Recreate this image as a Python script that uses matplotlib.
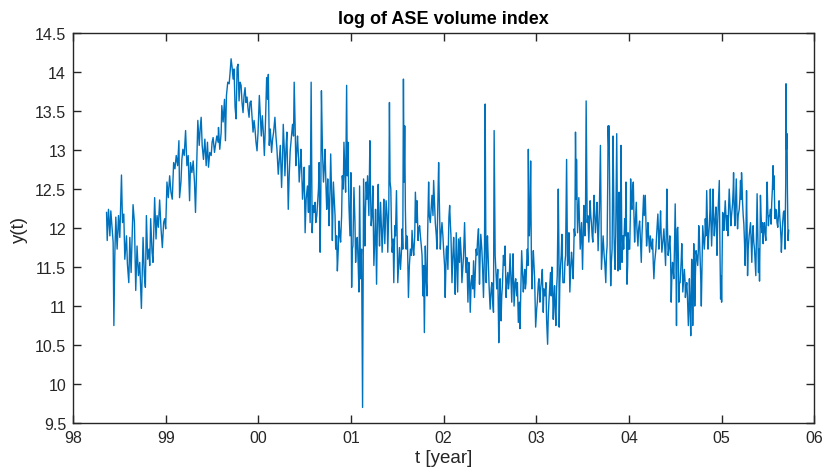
import numpy as np
import matplotlib
matplotlib.use('Agg')
import matplotlib.pyplot as plt

# values (time in years, 98 = 1998, 100 = 2000, ...)
t_1998 = [98.362, 98.369, 98.383, 98.398, 98.408, 98.423, 98.433, 98.441, 98.451, 98.462,
          98.476, 98.491, 98.505, 98.523, 98.534, 98.548, 98.559, 98.577, 98.587, 98.602,
          98.613, 98.627, 98.638, 98.648, 98.663, 98.677, 98.691, 98.706, 98.720, 98.738,
          98.749, 98.756, 98.770, 98.781, 98.792, 98.806, 98.820, 98.828, 98.838, 98.853,
          98.863, 98.881, 98.896, 98.907, 98.921, 98.935, 98.950, 98.964, 98.978, 98.989,
          99.000, 99.014, 99.028, 99.043, 99.057, 99.071, 99.086, 99.100, 99.114, 99.129,
          99.143, 99.150, 99.165, 99.175, 99.186, 99.200, 99.215, 99.229, 99.243, 99.258,
          99.268, 99.283, 99.297, 99.311, 99.322, 99.337, 99.347, 99.362, 99.372, 99.383,
          99.394, 99.408, 99.423, 99.437, 99.451, 99.462, 99.476, 99.491, 99.501, 99.512,
          99.527, 99.537, 99.552, 99.566]
y_1998 = [12.20, 11.84, 12.24, 11.90, 12.22, 11.99, 11.82, 10.75, 11.65, 12.14,
          11.73, 12.16, 11.88, 12.68, 12.07, 12.18, 11.60, 11.90, 11.54, 11.30,
          11.88, 11.43, 11.90, 12.30, 12.07, 11.20, 11.77, 11.39, 11.56, 10.97,
          11.52, 11.88, 11.39, 11.24, 12.16, 11.60, 11.73, 11.52, 12.12, 11.69,
          11.56, 12.39, 11.86, 12.16, 12.01, 12.36, 11.99, 11.75, 12.07, 12.12,
          11.99, 12.59, 12.39, 12.67, 12.46, 12.37, 12.84, 12.76, 12.93, 12.80,
          13.12, 12.39, 12.59, 12.88, 13.01, 12.93, 13.25, 12.80, 12.93, 12.35,
          12.84, 12.71, 12.86, 12.59, 12.20, 12.88, 13.38, 13.06, 13.27, 13.42,
          13.06, 12.88, 13.14, 12.80, 13.10, 12.78, 12.97, 12.93, 13.10, 13.16,
          12.97, 13.06, 13.18, 13.10]

t_1999 = [99.570, 99.584, 99.599, 99.606, 99.620, 99.635, 99.645, 99.656, 99.670, 99.685,
          99.695, 99.706, 99.717, 99.728, 99.738, 99.749, 99.760, 99.771, 99.781, 99.792,
          99.803, 99.814, 99.824, 99.835, 99.846, 99.857, 99.867, 99.878, 99.889, 99.900,
          99.910, 99.921, 99.932, 99.943, 99.954, 99.964, 99.975, 99.986, 99.997, 100.011,
          100.022, 100.032, 100.043, 100.054, 100.065, 100.075, 100.090, 100.100, 100.108, 100.118,
          100.129, 100.143, 100.154, 100.165, 100.179, 100.190, 100.201, 100.215, 100.226, 100.237,
          100.251, 100.262, 100.269, 100.280, 100.287, 100.298, 100.308, 100.323, 100.333, 100.344,
          100.355, 100.369, 100.380, 100.387, 100.398, 100.405, 100.416, 100.423, 100.434, 100.441,
          100.452, 100.459, 100.470, 100.477, 100.488, 100.495, 100.505, 100.516, 100.530, 100.541,
          100.548, 100.559, 100.570, 100.581, 100.591, 100.602, 100.613, 100.620, 100.631, 100.638,
          100.649, 100.656, 100.667, 100.674, 100.681, 100.692, 100.703, 100.713, 100.720, 100.731,
          100.738, 100.749, 100.756, 100.763, 100.774, 100.781, 100.792, 100.799, 100.810]
y_1999 = [13.29, 13.01, 13.23, 13.57, 13.36, 13.65, 13.12, 13.70, 13.87, 13.85,
          13.99, 14.17, 14.06, 13.91, 14.04, 13.55, 13.40, 14.06, 14.10, 13.63,
          13.87, 13.83, 13.61, 13.48, 13.70, 13.80, 13.61, 13.68, 13.53, 13.42,
          13.61, 13.63, 13.44, 13.23, 13.38, 13.27, 13.10, 12.99, 13.23, 13.70,
          13.44, 13.18, 13.44, 13.23, 12.93, 13.27, 13.93, 13.65, 13.97, 13.06,
          13.27, 12.97, 13.14, 13.23, 13.42, 13.18, 13.01, 12.69, 12.88, 13.06,
          12.52, 12.93, 13.33, 13.01, 12.67, 13.01, 13.23, 12.24, 12.67, 12.99,
          13.14, 13.33, 13.18, 13.87, 13.27, 12.80, 13.01, 13.18, 12.88, 12.59,
          12.80, 13.01, 12.67, 12.37, 12.59, 12.78, 11.94, 12.37, 12.54, 12.20,
          12.80, 12.07, 13.87, 11.94, 12.29, 12.20, 12.33, 12.07, 12.16, 12.29,
          12.50, 12.84, 11.69, 12.37, 13.76, 13.01, 12.59, 12.80, 13.01, 12.50,
          12.24, 12.63, 12.37, 12.03, 12.50, 12.95, 12.37, 11.84, 12.59]

t_2000 = [100.828, 100.835, 100.845, 100.853, 100.863, 100.871, 100.881, 100.888, 100.899, 100.906,
          100.917, 100.924, 100.935, 100.942, 100.953, 100.960, 100.967, 100.978, 100.989, 100.999,
          101.007, 101.014, 101.021, 101.032, 101.043, 101.050, 101.060, 101.068, 101.078, 101.086,
          101.093, 101.103, 101.114, 101.125, 101.132, 101.136, 101.143, 101.150, 101.157, 101.164,
          101.172, 101.179, 101.186, 101.193, 101.204, 101.211, 101.218, 101.229, 101.236, 101.247,
          101.258, 101.265, 101.276, 101.286, 101.294, 101.301, 101.308, 101.319, 101.329, 101.336,
          101.347, 101.354, 101.365, 101.372, 101.379, 101.390, 101.397, 101.408, 101.415, 101.422,
          101.430, 101.437, 101.444, 101.455, 101.462, 101.473, 101.480, 101.491, 101.498, 101.505,
          101.516, 101.523, 101.534, 101.544, 101.552, 101.559, 101.566, 101.573, 101.580, 101.587,
          101.595, 101.602, 101.609, 101.620, 101.630, 101.641, 101.652, 101.659, 101.670, 101.677,
          101.688, 101.695, 101.706, 101.713, 101.724, 101.731, 101.741, 101.749, 101.759, 101.767,
          101.777, 101.784, 101.792, 101.802, 101.810, 101.820, 101.827, 101.838, 101.845, 101.856,
          101.867, 101.874, 101.885, 101.892, 101.903, 101.910, 101.921, 101.928, 101.935, 101.946,
          101.953, 101.964, 101.971, 101.982, 101.992, 101.999, 102.010, 102.017, 102.028, 102.035,
          102.046]
y_2000 = [12.16, 11.73, 11.90, 11.45, 11.73, 12.09, 11.90, 11.82, 12.16, 12.67,
          12.50, 13.10, 12.67, 12.46, 13.83, 12.67, 13.10, 12.29, 11.90, 12.71,
          11.24, 11.73, 11.77, 12.52, 12.07, 11.56, 11.86, 11.88, 11.52, 11.18,
          12.54, 11.35, 11.73, 9.70, 11.73, 12.63, 12.16, 11.77, 12.24, 12.59,
          12.37, 12.67, 12.42, 12.16, 13.12, 12.46, 12.03, 12.20, 12.54, 11.52,
          11.90, 12.24, 11.28, 12.16, 12.56, 12.07, 11.77, 12.33, 11.99, 11.69,
          12.07, 12.37, 11.80, 12.07, 12.35, 12.16, 11.69, 12.24, 13.61, 12.59,
          12.50, 11.99, 11.69, 11.86, 11.30, 12.03, 11.90, 12.48, 11.90, 11.30,
          11.56, 11.75, 11.47, 11.69, 11.99, 11.73, 13.91, 12.59, 13.31, 12.24,
          11.73, 11.90, 11.86, 11.11, 11.52, 11.73, 11.65, 11.97, 11.73, 11.65,
          11.90, 12.46, 12.07, 12.35, 11.84, 11.99, 12.03, 11.90, 11.77, 11.65,
          11.13, 11.52, 10.66, 11.77, 11.39, 11.13, 11.90, 12.59, 12.16, 12.07,
          12.29, 12.42, 12.16, 12.61, 12.29, 12.07, 11.90, 11.73, 12.16, 12.84,
          12.37, 11.73, 11.90, 12.07, 11.90, 11.73, 11.52, 11.11, 11.73, 11.77,
          11.47]

t_2002 = [102.050, 102.057, 102.065, 102.072, 102.079, 102.090, 102.100, 102.108, 102.118, 102.125,
          102.136, 102.143, 102.151, 102.161, 102.172, 102.179, 102.190, 102.197, 102.208, 102.215,
          102.226, 102.233, 102.240, 102.251, 102.262, 102.272, 102.280, 102.287, 102.297, 102.305,
          102.315, 102.323, 102.333, 102.344, 102.351, 102.358, 102.366, 102.376, 102.387, 102.394,
          102.401, 102.412, 102.419, 102.430, 102.441, 102.448, 102.455, 102.459, 102.466, 102.473,
          102.484, 102.491, 102.502, 102.513, 102.520, 102.530, 102.538, 102.545, 102.552, 102.556,
          102.566, 102.573, 102.584, 102.595, 102.602, 102.609, 102.620, 102.627, 102.634, 102.645,
          102.656, 102.663, 102.674, 102.681, 102.692, 102.699, 102.706, 102.717, 102.728, 102.735,
          102.742, 102.749, 102.760, 102.771, 102.778, 102.789, 102.796, 102.806, 102.817, 102.824,
          102.835, 102.842, 102.853, 102.860, 102.867, 102.875, 102.882, 102.889, 102.896, 102.903,
          102.910, 102.914, 102.921, 102.925, 102.932, 102.939, 102.946, 102.953, 102.961, 102.968,
          102.975, 102.982, 102.993, 103.004, 103.011, 103.022, 103.029, 103.039, 103.047, 103.054,
          103.065, 103.075, 103.082, 103.093, 103.104, 103.111, 103.122, 103.129, 103.136, 103.147,
          103.154, 103.161, 103.168, 103.176, 103.183, 103.190, 103.197, 103.204, 103.211, 103.219,
          103.226, 103.237, 103.244, 103.247, 103.254, 103.262, 103.269, 103.276, 103.287]
y_2002 = [11.73, 12.14, 12.29, 12.07, 11.90, 11.30, 11.65, 11.88, 11.52, 11.15,
          11.94, 11.56, 11.18, 11.86, 11.56, 11.88, 11.65, 11.30, 11.52, 11.65,
          12.07, 11.73, 11.43, 11.62, 11.05, 11.56, 11.30, 10.92, 11.30, 11.39,
          11.22, 11.58, 11.11, 11.52, 11.73, 11.65, 11.84, 11.99, 11.28, 11.65,
          11.92, 11.73, 11.54, 11.11, 11.73, 13.59, 11.90, 11.30, 11.65, 11.90,
          11.52, 11.24, 10.96, 11.22, 11.30, 11.05, 10.92, 13.25, 12.16, 11.65,
          11.39, 11.22, 11.47, 10.53, 11.05, 11.35, 10.81, 11.13, 11.26, 11.65,
          11.52, 11.77, 11.11, 11.30, 11.43, 11.22, 11.30, 11.67, 11.30, 11.05,
          11.39, 11.67, 11.00, 11.30, 11.35, 11.13, 11.30, 10.79, 11.05, 10.71,
          11.30, 11.71, 11.39, 11.18, 11.35, 11.47, 11.22, 11.30, 11.56, 11.73,
          11.52, 13.01, 12.07, 11.90, 12.16, 12.86, 11.73, 11.22, 11.52, 11.71,
          11.52, 11.35, 10.73, 10.96, 11.05, 11.30, 11.35, 11.05, 11.22, 11.30,
          11.47, 10.92, 11.22, 11.13, 11.30, 10.83, 10.51, 10.87, 11.05, 11.30,
          11.43, 11.13, 11.50, 11.22, 10.83, 11.09, 11.26, 10.96, 10.75, 11.22,
          11.39, 12.50, 11.73, 10.73, 11.30, 11.52, 11.65, 11.92, 11.30]

t_2003 = [103.302, 103.309, 103.316, 103.327, 103.334, 103.337, 103.345, 103.352, 103.362, 103.373,
          103.380, 103.388, 103.398, 103.409, 103.416, 103.423, 103.431, 103.434, 103.441, 103.445,
          103.452, 103.459, 103.466, 103.474, 103.481, 103.488, 103.499, 103.506, 103.513, 103.520,
          103.524, 103.531, 103.538, 103.545, 103.549, 103.556, 103.567, 103.574, 103.581, 103.588,
          103.595, 103.603, 103.610, 103.617, 103.624, 103.631, 103.638, 103.649, 103.656, 103.667,
          103.674, 103.681, 103.692, 103.699, 103.703, 103.714, 103.721, 103.732, 103.739, 103.750,
          103.757, 103.764, 103.771, 103.775, 103.782, 103.785, 103.793, 103.796, 103.803, 103.810,
          103.818, 103.828, 103.836, 103.839, 103.846, 103.850, 103.857, 103.868, 103.875, 103.882,
          103.889, 103.893, 103.900, 103.904, 103.911, 103.914, 103.921, 103.925, 103.936, 103.943,
          103.954, 103.961, 103.968, 103.975, 103.979, 103.986, 103.990, 104.000, 104.008, 104.015,
          104.018, 104.026, 104.033, 104.040, 104.047, 104.054, 104.061, 104.069, 104.079, 104.086,
          104.097, 104.104, 104.115, 104.122, 104.133, 104.140, 104.151, 104.158, 104.165, 104.176,
          104.183, 104.190, 104.198, 104.205, 104.212, 104.223, 104.230, 104.241, 104.248, 104.255,
          104.262, 104.269, 104.277, 104.284, 104.291, 104.298, 104.305, 104.312, 104.320, 104.323,
          104.334, 104.341, 104.348, 104.355, 104.366, 104.377, 104.384, 104.395, 104.402, 104.409,
          104.416, 104.423, 104.434, 104.441, 104.449, 104.456, 104.463, 104.470, 104.477, 104.484,
          104.491, 104.499, 104.506, 104.513, 104.520]
y_2003 = [11.30, 11.56, 11.65, 12.88, 11.90, 11.52, 11.65, 11.94, 11.18, 11.52,
          11.69, 11.56, 11.35, 11.99, 11.90, 13.23, 12.37, 12.88, 12.24, 11.94,
          12.16, 12.39, 12.07, 11.73, 11.90, 12.07, 11.47, 11.90, 12.29, 12.07,
          11.90, 12.16, 13.63, 12.59, 12.07, 12.16, 11.82, 12.07, 12.35, 12.16,
          12.07, 11.90, 11.82, 12.16, 12.42, 12.16, 11.94, 12.16, 12.33, 11.71,
          11.99, 12.24, 13.06, 12.16, 11.47, 11.73, 11.90, 11.65, 11.56, 11.30,
          11.65, 11.77, 12.59, 13.31, 13.01, 13.31, 12.37, 11.77, 11.26, 11.56,
          11.73, 13.18, 12.37, 11.90, 11.56, 11.47, 11.90, 13.21, 12.16, 11.45,
          11.90, 12.46, 11.90, 11.47, 12.16, 13.06, 12.16, 11.56, 11.90, 11.73,
          12.12, 11.90, 12.59, 11.73, 11.28, 11.52, 11.94, 11.73, 11.73, 12.16,
          12.63, 12.29, 12.24, 12.50, 12.59, 12.16, 11.82, 12.07, 12.33, 11.99,
          11.77, 11.99, 12.09, 11.90, 11.56, 11.90, 12.20, 12.42, 12.16, 12.42,
          12.07, 11.77, 11.90, 12.07, 11.90, 11.69, 11.90, 11.77, 11.73, 11.86,
          11.56, 11.35, 11.56, 11.65, 11.73, 11.90, 12.03, 12.18, 11.90, 11.73,
          11.99, 12.22, 11.90, 11.69, 11.82, 11.99, 11.82, 11.52, 11.90, 12.50,
          11.99, 11.65, 11.77, 11.90, 11.65, 11.05, 11.39, 11.56, 11.47, 11.35,
          11.73, 12.31, 11.73, 10.75, 11.99]

t_2004 = [104.527, 104.534, 104.538, 104.545, 104.552, 104.563, 104.570, 104.577, 104.581, 104.588,
          104.598, 104.606, 104.609, 104.616, 104.624, 104.631, 104.641, 104.649, 104.652, 104.659,
          104.667, 104.674, 104.677, 104.684, 104.688, 104.695, 104.699, 104.706, 104.710, 104.717,
          104.724, 104.731, 104.742, 104.749, 104.753, 104.760, 104.767, 104.774, 104.781, 104.788,
          104.796, 104.803, 104.813, 104.821, 104.824, 104.831, 104.839, 104.846, 104.853, 104.860,
          104.867, 104.874, 104.878, 104.885, 104.892, 104.900, 104.907, 104.914, 104.921, 104.928,
          104.939, 104.946, 104.950, 104.957, 104.964, 104.971, 104.975, 104.982, 104.989, 104.996,
          105.000, 105.007, 105.011, 105.018, 105.025, 105.032, 105.039, 105.046, 105.054, 105.061,
          105.068, 105.075, 105.082, 105.090, 105.100, 105.107, 105.118, 105.125, 105.129, 105.136,
          105.143, 105.150, 105.158, 105.165, 105.172, 105.179, 105.190, 105.197, 105.204, 105.211,
          105.215, 105.222, 105.226, 105.233, 105.240, 105.247, 105.254, 105.262, 105.269, 105.276,
          105.280, 105.287, 105.297, 105.305, 105.312, 105.319, 105.326, 105.333, 105.340, 105.347,
          105.355, 105.362, 105.369, 105.376, 105.383, 105.391, 105.398, 105.405, 105.409, 105.416,
          105.419, 105.426, 105.434, 105.441, 105.448, 105.455, 105.462, 105.469, 105.477, 105.484,
          105.491, 105.498, 105.505, 105.512, 105.520, 105.527, 105.534, 105.541, 105.548, 105.555,
          105.559, 105.566, 105.573, 105.577, 105.584, 105.591, 105.598, 105.606, 105.613, 105.620,
          105.627, 105.634, 105.641, 105.645, 105.652, 105.659, 105.667, 105.674, 105.681, 105.684,
          105.692, 105.695, 105.699, 105.706, 105.710, 105.717, 105.724]
y_2004 = [12.01, 11.56, 11.05, 11.30, 11.30, 11.56, 11.80, 11.52, 11.18, 11.30,
          11.47, 11.30, 11.11, 11.22, 11.30, 11.13, 10.75, 11.05, 11.35, 11.05,
          10.62, 11.30, 11.60, 11.30, 10.75, 11.30, 11.80, 11.52, 11.00, 11.39,
          11.71, 11.65, 11.52, 11.73, 12.03, 11.90, 11.65, 11.39, 11.00, 11.52,
          12.03, 11.90, 11.73, 11.90, 12.12, 11.90, 12.48, 12.07, 11.73, 11.90,
          12.03, 12.24, 12.50, 12.07, 11.77, 12.07, 12.50, 12.16, 11.90, 12.07,
          12.27, 11.90, 11.65, 12.07, 12.29, 12.50, 12.61, 11.73, 11.09, 11.39,
          11.05, 11.73, 12.20, 12.16, 11.97, 12.16, 12.35, 12.16, 11.97, 12.16,
          11.90, 12.24, 12.50, 12.29, 12.03, 12.16, 12.31, 12.50, 12.71, 12.24,
          12.03, 12.33, 12.63, 12.24, 11.99, 12.16, 12.24, 12.37, 12.61, 12.37,
          12.71, 12.50, 12.33, 12.16, 12.05, 11.82, 11.52, 11.90, 12.48, 11.90,
          11.39, 11.73, 11.90, 11.99, 12.07, 11.82, 11.56, 11.90, 12.03, 11.82,
          11.73, 11.56, 11.39, 11.90, 12.44, 11.90, 11.43, 11.73, 11.32, 11.99,
          12.42, 12.16, 11.94, 12.07, 11.80, 11.99, 12.07, 11.94, 11.84, 12.16,
          12.59, 12.24, 12.03, 12.16, 12.16, 12.24, 12.05, 12.33, 12.50, 12.80,
          12.50, 12.67, 12.24, 12.12, 12.24, 12.22, 12.07, 12.01, 12.16, 12.35,
          12.16, 12.03, 11.86, 11.69, 11.90, 12.07, 12.20, 12.22, 11.99, 11.73,
          12.59, 13.85, 13.01, 13.21, 12.50, 11.84, 11.97]

x_ticks = [98, 99, 100, 101, 102, 103, 104, 105, 106]
x_labels = ['98', '99', '00', '01', '02', '03', '04', '05', '06']
y_ticks = [9.5, 10, 10.5, 11, 11.5, 12, 12.5, 13, 13.5, 14, 14.5]
y_labels = ['9.5', '10', '10.5', '11', '11.5', '12', '12.5', '13', '13.5', '14', '14.5']

t = np.concatenate([t_1998, t_1999, t_2000, t_2002, t_2003, t_2004])
y = np.concatenate([y_1998, y_1999, y_2000, y_2002, y_2003, y_2004])

plt.rcParams['font.family'] = ['Liberation Sans', 'DejaVu Sans']
text_col = '#262626'

fig = plt.figure(figsize=(8.25, 4.77), dpi=100)
ax = fig.add_axes([0.0885, 0.111, 0.8985, 0.8176])
ax.plot(t, y, color='#0072BD', linewidth=1.0)

ax.set_xlim(98, 106)
ax.set_ylim(9.5, 14.5)
ax.set_xticks(x_ticks)
ax.set_xticklabels(x_labels)
ax.set_yticks(y_ticks)
ax.set_yticklabels(y_labels)
ax.tick_params(direction='in', length=5.5, width=1.0, colors=text_col,
               labelsize=11.5, top=True, right=True, pad=5)
for s in ax.spines.values():
    s.set_color(text_col)
    s.set_linewidth(1.0)

ax.set_title('log of ASE volume index', fontsize=13, fontweight='bold', color='black', pad=7)
ax.set_xlabel('t [year]', fontsize=13.5, color=text_col, labelpad=3)
ax.set_ylabel('y(t)', fontsize=13.5, color=text_col, labelpad=5)

plt.savefig('out.png', dpi=100)
plt.close()
